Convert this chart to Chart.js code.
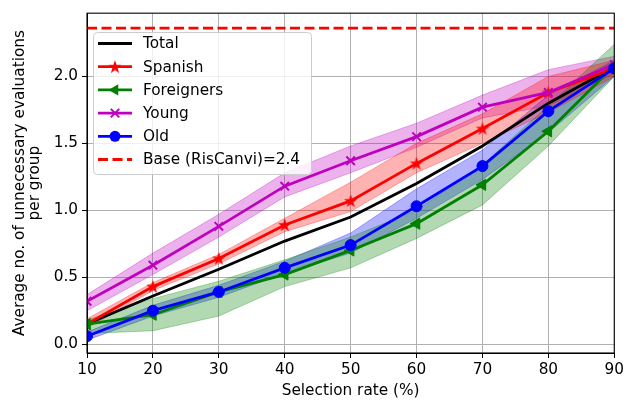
<!DOCTYPE html>
<html>
<head>
<meta charset="utf-8">
<script src="https://cdn.jsdelivr.net/npm/chart.js@4/dist/chart.umd.min.js"></script>
<style>
html,body{margin:0;padding:0;background:#fff;}
#wrap{width:627px;height:404px;}
</style>
</head>
<body>
<div id="wrap"><canvas id="chart" width="627" height="404"></canvas></div>
<script>
// selection rates (x)
var rates = [10,20,30,40,50,60,70,80,90];

var total = [0.15,0.36,0.56,0.77,0.95,1.20,1.48,1.80,2.07];

var spanish   = [0.15,0.43,0.64,0.89,1.07,1.35,1.61,1.88,2.06];
var spanishLo = [0.12,0.40,0.60,0.84,0.99,1.28,1.50,1.73,2.00];
var spanishHi = [0.19,0.46,0.67,0.94,1.21,1.50,1.72,2.00,2.12];

var foreigners   = [0.15,0.22,0.39,0.52,0.70,0.90,1.19,1.59,2.08];
var foreignersLo = [0.08,0.10,0.21,0.43,0.57,0.79,1.04,1.48,2.00];
var foreignersHi = [0.18,0.34,0.47,0.63,0.80,1.00,1.34,1.78,2.24];

var young   = [0.32,0.59,0.88,1.18,1.37,1.55,1.77,1.88,2.09];
var youngLo = [0.25,0.52,0.80,1.10,1.28,1.47,1.69,1.78,2.02];
var youngHi = [0.37,0.68,0.97,1.28,1.48,1.65,1.86,2.05,2.15];

var old   = [0.06,0.25,0.39,0.57,0.74,1.03,1.33,1.74,2.06];
var oldLo = [0.03,0.21,0.35,0.53,0.68,0.94,1.23,1.58,2.00];
var oldHi = [0.09,0.29,0.44,0.62,0.83,1.16,1.45,1.86,2.12];

var baseValue = 2.36;
var baseLabel = 'Base (RisCanvi)=2.4';
var yTicks = [0,0.5,1.0,1.5,2.0];
var xTicks = [10,20,30,40,50,60,70,80,90];

var FS = 15.3;
Chart.defaults.font.family = "'DejaVu Sans', sans-serif";
Chart.defaults.color = '#000';

function pts(arr){
  return arr.map(function(v,i){ return {x:rates[i], y:v}; });
}

// filled 5 point star like matplotlib '*'
function makeStar(color, r){
  var c = document.createElement('canvas');
  var s = Math.ceil(r*2+2);
  c.width = s; c.height = s;
  var g = c.getContext('2d');
  g.fillStyle = color;
  g.beginPath();
  for (var i=0;i<10;i++){
    var rr = (i%2==0) ? r : r*0.4;
    var a = -Math.PI/2 + i*Math.PI/5;
    var px = s/2 + rr*Math.cos(a), py = s/2 + 0.5 + rr*Math.sin(a);
    if(i==0) g.moveTo(px,py); else g.lineTo(px,py);
  }
  g.closePath();
  g.fill();
  return c;
}
var starImg = makeStar('#ff0000', 7);

function series(label, data, color, style, radius, order, rot){
  return {
    label: label, data: pts(data), borderColor: color, backgroundColor: color,
    borderWidth: 2.8, pointStyle: style, pointRadius: radius, pointRotation: rot||0,
    pointBorderWidth: style=='crossRot' ? 2 : 1, pointBorderColor: color,
    pointBackgroundColor: color, fill: false, order: order, clip: 0, tension: 0,
    inLegend: true
  };
}
function band(data, color, fillTarget){
  return {
    label: '', data: pts(data), borderColor: color, backgroundColor: color,
    borderWidth: 1, pointRadius: 0, fill: fillTarget, order: 20, clip: 0, tension: 0
  };
}

var datasets = [
  series('Total', total, '#000000', 'line', 0, 5),
  series('Spanish', spanish, '#ff0000', starImg, 7, 4),
  band(spanishHi, 'rgba(255,0,0,0.3)', '+1'),
  band(spanishLo, 'rgba(255,0,0,0.3)', false),
  series('Foreigners', foreigners, '#008000', 'triangle', 6.5, 3, -90),
  band(foreignersHi, 'rgba(0,128,0,0.3)', '+1'),
  band(foreignersLo, 'rgba(0,128,0,0.3)', false),
  series('Young', young, '#bf00bf', 'crossRot', 6, 2),
  band(youngHi, 'rgba(191,0,191,0.3)', '+1'),
  band(youngLo, 'rgba(191,0,191,0.3)', false),
  series('Old', old, '#0000ff', 'circle', 5.5, 1),
  band(oldHi, 'rgba(0,0,255,0.3)', '+1'),
  band(oldLo, 'rgba(0,0,255,0.3)', false),
  {
    label: baseLabel, data: [{x:rates[0], y:baseValue},{x:rates[rates.length-1], y:baseValue}],
    borderColor: '#ff0000', borderWidth: 2.8, borderDash: [10,4.5], pointRadius: 0,
    fill: false, order: 6, clip: 0, inLegend: true, dashed: true
  }
];

// full black frame round the axes
var framePlugin = {
  id: 'frame',
  afterDatasetsDraw: function(chart){
    var a = chart.chartArea, ctx = chart.ctx;
    ctx.save();
    ctx.strokeStyle = '#000';
    ctx.lineWidth = 1.1;
    ctx.strokeRect(a.left, a.top, a.right-a.left, a.bottom-a.top);
    ctx.restore();
  }
};

function drawMarker(ctx, ds, x, y){
  var c = ds.borderColor;
  ctx.save();
  ctx.fillStyle = c; ctx.strokeStyle = c;
  if(ds.pointStyle === starImg){
    ctx.drawImage(starImg, x - starImg.width/2, y - starImg.height/2);
  }else if(ds.pointStyle == 'triangle'){
    var r = ds.pointRadius;
    ctx.beginPath();
    ctx.moveTo(x - r, y);
    ctx.lineTo(x + r*0.5, y - r*0.866);
    ctx.lineTo(x + r*0.5, y + r*0.866);
    ctx.closePath(); ctx.fill();
  }else if(ds.pointStyle == 'crossRot'){
    var d = ds.pointRadius*0.707;
    ctx.lineWidth = 2;
    ctx.beginPath();
    ctx.moveTo(x-d,y-d); ctx.lineTo(x+d,y+d);
    ctx.moveTo(x-d,y+d); ctx.lineTo(x+d,y-d);
    ctx.stroke();
  }else if(ds.pointStyle == 'circle'){
    ctx.beginPath(); ctx.arc(x,y,ds.pointRadius,0,Math.PI*2); ctx.fill();
  }
  ctx.restore();
}

// legend box inside the axes, upper left
var boxLegend = {
  id: 'boxLegend',
  afterDatasetsDraw: function(chart){
    var ctx = chart.ctx;
    var items = chart.data.datasets.filter(function(d){ return d.inLegend; });
    var bx = 93, by = 32, bw = 218, bh = 142, row = 23.2;
    ctx.save();
    ctx.beginPath();
    ctx.roundRect(bx+0.5, by+0.5, bw, bh, 4);
    ctx.fillStyle = 'rgba(255,255,255,0.8)';
    ctx.fill();
    ctx.strokeStyle = '#cccccc';
    ctx.lineWidth = 1;
    ctx.stroke();
    ctx.font = FS + "px 'DejaVu Sans'";
    ctx.textBaseline = 'middle';
    items.forEach(function(ds, i){
      var y = by + 11.5 + i*row;
      ctx.save();
      ctx.strokeStyle = ds.borderColor;
      ctx.lineWidth = 2.8;
      if(ds.dashed) ctx.setLineDash([10,4.5]);
      ctx.beginPath(); ctx.moveTo(98, y); ctx.lineTo(132, y); ctx.stroke();
      ctx.restore();
      drawMarker(ctx, ds, 115, y);
      ctx.fillStyle = '#000';
      ctx.fillText(ds.label, 143, y + 1);
    });
    ctx.restore();
  }
};

new Chart(document.getElementById('chart'), {
  type: 'line',
  data: { datasets: datasets },
  plugins: [framePlugin, boxLegend],
  options: {
    responsive: false,
    animation: false,
    layout: { padding: { left: 0, top: 9, right: 11, bottom: 0 } },
    plugins: { legend: { display: false }, tooltip: { enabled: false } },
    scales: {
      x: {
        type: 'linear', min: 10, max: 90,
        afterBuildTicks: function(s){ s.ticks = xTicks.map(function(v){ return {value:v}; }); },
        ticks: { font: { size: FS }, color: '#000', padding: 3, maxRotation: 0 },
        grid: { color: '#b0b0b0', lineWidth: 1, tickLength: 5, tickColor: '#000', tickWidth: 1 },
        border: { color: '#000', width: 1 },
        title: { display: true, text: 'Selection rate (%)', font: { size: FS, lineHeight: 1.0 }, color: '#000', padding: { top: 0, bottom: 5 } },
        afterFit: function(s){ s.height = 51; }
      },
      y: {
        min: -0.066, max: 2.472,
        afterBuildTicks: function(s){ s.ticks = yTicks.map(function(v){ return {value:v}; }); },
        ticks: { font: { size: FS }, color: '#000', padding: 4, callback: function(v){ return Number(v).toFixed(1); } },
        grid: { color: '#b0b0b0', lineWidth: 1, tickLength: 5, tickColor: '#000', tickWidth: 1 },
        border: { color: '#000', width: 1 },
        title: { display: true, text: ['Average no. of unnecessary evaluations', 'per group'], font: { size: FS, lineHeight: 1.0 }, color: '#000', padding: { top: 12.3, bottom: 0 } },
        afterFit: function(s){ s.width = 87; }
      }
    }
  }
});
</script>
</body>
</html>
